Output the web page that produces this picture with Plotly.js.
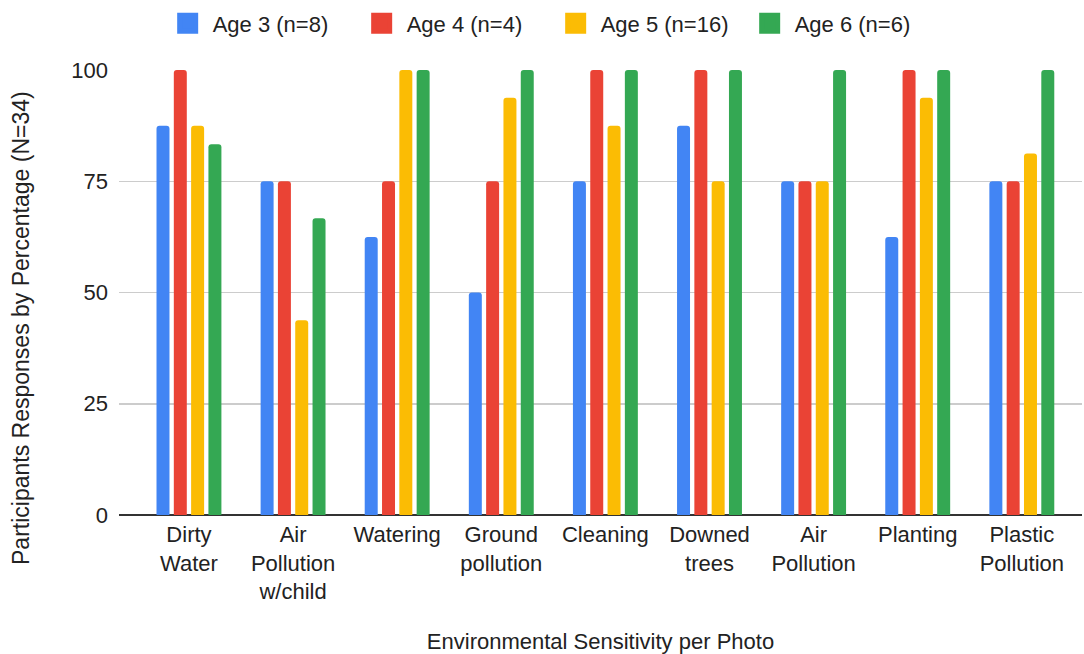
<!DOCTYPE html>
<html>
<head>
<meta charset="utf-8">
<script src="https://cdn.plot.ly/plotly-3.0.1.min.js"></script>
<style>html,body{margin:0;padding:0;background:#fff;}#chart{width:1084px;height:654px;}</style>
</head>
<body>
<div id="chart"></div>
<script>
const categories = ["Dirty Water", "Air Pollution w/child", "Watering", "Ground pollution", "Cleaning", "Downed trees", "Air Pollution", "Planting", "Plastic Pollution"];
const tickLabels = ["Dirty<br>Water", "Air<br>Pollution<br>w/child", "Watering", "Ground<br>pollution", "Cleaning", "Downed<br>trees", "Air<br>Pollution", "Planting", "Plastic<br>Pollution"];
const seriesNames = ["Age 3 (n=8)", "Age 4 (n=4)", "Age 5 (n=16)", "Age 6 (n=6)"];
const age3 = [87.5, 75, 62.5, 50, 75, 87.5, 75, 62.5, 75];
const age4 = [100, 75, 75, 75, 100, 100, 75, 100, 75];
const age5 = [87.5, 43.75, 100, 93.75, 87.5, 75, 75, 93.75, 81.25];
const age6 = [83.33, 66.67, 100, 100, 100, 100, 100, 100, 100];
const colors = ["#4285F4", "#EA4335", "#FBBC04", "#34A853"];
const yTitle = "Participants Responses by Percentage (N=34)";
const xTitle = "Environmental Sensitivity per Photo";

const xIdx = categories.map((c, i) => i);
const allSeries = [age3, age4, age5, age6];
const font = "'Liberation Sans', Arial, sans-serif";
const txt = "#222222";

const traces = allSeries.map((vals, k) => ({
  type: "bar",
  name: seriesNames[k],
  x: xIdx,
  y: vals,
  marker: {color: colors[k]},
  cliponaxis: false,
  showlegend: false,
  hoverinfo: "y+name"
}));
// legend entries (no data) with larger square swatches
seriesNames.forEach((n, k) => traces.push({
  type: "scatter", mode: "markers", name: n,
  x: [null], y: [null],
  marker: {symbol: "square", size: 16, color: colors[k], line: {color: colors[k], width: 5}},
  showlegend: true, hoverinfo: "skip"
}));

const layout = {
  width: 1084,
  height: 654,
  margin: {l: 119, r: 2, t: 70, b: 139},
  paper_bgcolor: "#fff",
  plot_bgcolor: "#fff",
  barmode: "group",
  bargap: 0.335,
  bargroupgap: 0.25,
  barcornerradius: 3,
  font: {family: font, size: 22, color: txt},
  showlegend: true,
  legend: {
    orientation: "h",
    xref: "container", yref: "container",
    x: 0.508, xanchor: "center",
    y: 0.964, yanchor: "middle",
    itemsizing: "trace",
    itemwidth: 40,
    entrywidth: 139,
    entrywidthmode: "pixels",
    font: {family: font, size: 22, color: txt}
  },
  annotations: [{
    text: yTitle, textangle: -90,
    xref: "paper", yref: "paper",
    x: -0.1018, y: 0.4202, xanchor: "center", yanchor: "middle",
    showarrow: false,
    font: {family: font, size: 23, color: txt}
  }],
  xaxis: {
    type: "linear",
    range: [-0.672, 8.578],
    tickvals: xIdx,
    ticktext: tickLabels,
    showgrid: false,
    zeroline: false,
    showline: false,
    ticks: "",
    ticklabelstandoff: 4,
    tickfont: {family: font, size: 22, color: txt},
    title: {text: xTitle, font: {family: font, size: 22, color: txt}, standoff: 30}
  },
  yaxis: {
    range: [0, 100],
    tickvals: [0, 25, 50, 75, 100],
    showgrid: true,
    gridcolor: "#cccccc",
    gridwidth: 1.5,
    zeroline: true,
    zerolinecolor: "#333333",
    zerolinewidth: 2,
    ticks: "",
    ticklabelstandoff: 10,
    tickfont: {family: font, size: 22, color: txt}
  }
};

Plotly.newPlot("chart", traces, layout, {displayModeBar: false, staticPlot: true});
</script>
</body>
</html>
